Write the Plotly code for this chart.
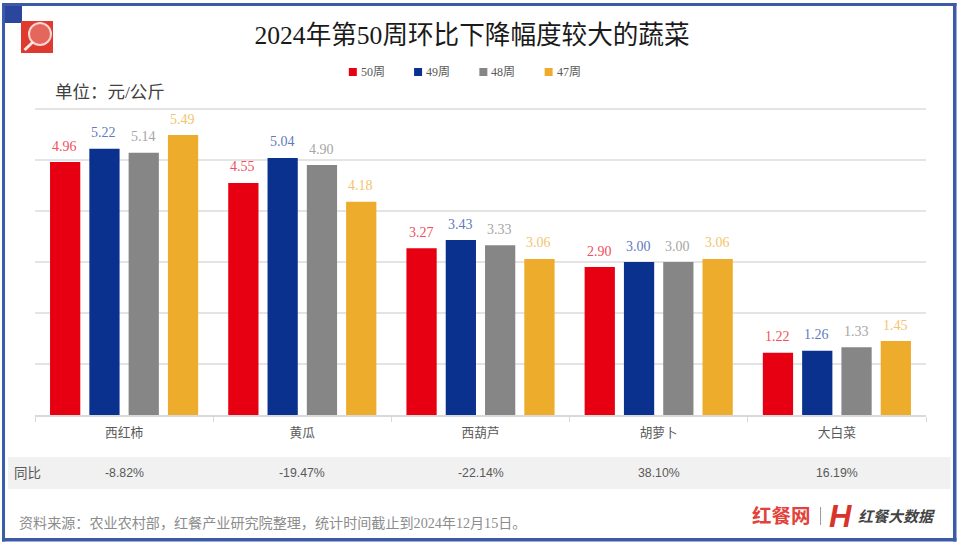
import plotly.graph_objects as go

categories = ["西红柿", "黄瓜", "西葫芦", "胡萝卜", "大白菜"]
week50 = [4.96, 4.55, 3.27, 2.90, 1.22]
week49 = [5.22, 5.04, 3.43, 3.00, 1.26]
week48 = [5.14, 4.90, 3.33, 3.00, 1.33]
week47 = [5.49, 4.18, 3.06, 3.06, 1.45]
yoy = ["-8.82%", "-19.47%", "-22.14%", "38.10%", "16.19%"]
series_names = ["50周", "49周", "48周", "47周"]
title_text = "2024年第50周环比下降幅度较大的蔬菜"
unit_text = "单位：元/公斤"
source_text = "资料来源：农业农村部，红餐产业研究院整理，统计时间截止到2024年12月15日。"

W, H = 960, 546
L, R, T, B = 35, 926.5, 105, 415
SERIF = "'Liberation Serif', 'Noto Sans CJK SC', serif"
SANS = "'Liberation Sans', 'Noto Sans CJK SC', sans-serif"


def px(x):
    return (x - L) / (R - L)


def py(y):
    return (B - y) / (B - T)


fig = go.Figure()
bar_colors = ["#E60012", "#0B318F", "#868686", "#EDAC2B"]
label_colors = ["#F0505C", "#5F7BBE", "#A6A6A6", "#F3C46E"]
all_series = [week50, week49, week48, week47]
for name, vals, c in zip(series_names, all_series, bar_colors):
    fig.add_trace(go.Bar(x=categories, y=vals, name=name, marker=dict(color=c, line_width=0), showlegend=False))

shapes = []


def rect(x0, y0, x1, y1, color, layer="below"):
    shapes.append(dict(type="rect", xref="paper", yref="paper", x0=px(x0), x1=px(x1), y0=py(y1), y1=py(y0),
                       fillcolor=color, line_width=0, layer=layer))


BORDER = "#3B5BA9"
rect(2, 3, 957, 6, BORDER)
rect(2, 538, 957, 541.5, BORDER)
rect(2, 3, 5, 541.5, BORDER)
rect(953.5, 3, 957, 541.5, BORDER)
rect(5, 6, 22, 23, "#2B469C")
rect(8, 457, 951, 489, "#F1F1F1")
rect(21, 21, 53, 53, "#DE3A30")
shapes.append(dict(type="circle", xref="paper", yref="paper", x0=px(29), x1=px(51), y0=py(45), y1=py(23),
                   fillcolor="#E4675E", line=dict(color="#F6D5D2", width=2)))
shapes.append(dict(type="line", xref="paper", yref="paper", x0=px(24.5), x1=px(33), y0=py(50), y1=py(42),
                   line=dict(color="#FBE9E7", width=3)))
shapes.append(dict(type="line", xref="paper", yref="paper", x0=px(821), x1=px(821), y0=py(507), y1=py(525),
                   line=dict(color="#9A9A9A", width=1)))

ann = []


def text(x, y, s, size, color, family=SANS, anchor="left"):
    ann.append(dict(xref="paper", yref="paper", x=px(x), y=py(y), text=s, showarrow=False, xanchor=anchor,
                    yanchor="middle", font=dict(family=family, size=size, color=color)))


text(53, 92, unit_text, 17.5, "#404040", SERIF)
text(12, 473, "同比", 13.5, "#595959")
text(17, 523, source_text, 14.1, "#8C8C8C", SERIF)
text(750, 516, "<b>红餐网</b>", 19.5, "#E2423A")
text(827, 516, "<b><i>H</i></b>", 31, "#D9342B", "'Liberation Sans'")
text(856, 516, "<b><i>红餐大数据</i></b>", 15, "#444444")
for c, v in zip(categories, yoy):
    ann.append(dict(xref="x", yref="paper", x=c, y=py(473), text=v, showarrow=False, yanchor="middle",
                    font=dict(family=SANS, size=12.3, color="#595959")))

# bar value labels, placed from the data
pitch = 39.3
for i, (vals, lc) in enumerate(zip(all_series, label_colors)):
    for c, v in zip(categories, vals):
        ann.append(dict(xref="x", yref="y", x=c, y=v, text=f"{v:.2f}", showarrow=False, xanchor="center",
                        yanchor="middle", xshift=(i - 1.5) * pitch - 0.5, yshift=16,
                        font=dict(family=SERIF, size=14, color=lc)))

# compact legend
for i, (name, c) in enumerate(zip(series_names, bar_colors)):
    x0 = 349 + i * 65.3
    rect(x0, 68, x0 + 8, 76, c)
    text(x0 + 10, 72, name, 12, "#595959", SERIF)

fig.update_layout(
    width=W, height=H, autosize=False,
    margin=dict(l=L, r=W - R, t=T, b=H - B, pad=0),
    paper_bgcolor="white", plot_bgcolor="white",
    barmode="group", bargap=0.118, bargroupgap=0.23,
    title=dict(text=title_text, x=472 / W, xanchor="center", xref="container", y=1 - 35 / H, yanchor="middle",
               font=dict(family=SERIF, size=25.6, color="#1A1A1A")),
    xaxis=dict(tickson="boundaries", ticks="outside", ticklen=5, tickcolor="#D9D9D9", showline=True,
               linecolor="#D9D9D9", linewidth=1.5, tickfont=dict(family=SERIF, size=12.7, color="#595959"),
               ticklabelstandoff=5, showgrid=False),
    yaxis=dict(range=[0, (B - T) / 51], dtick=1, showticklabels=False, ticks="", gridcolor="#E4E4E4", gridwidth=1.5,
               showline=False, zeroline=False),
    shapes=shapes, annotations=ann, showlegend=False,
)
fig.write_html("out.html", post_script="document.body.style.margin='0';", config=dict(displayModeBar=False))
